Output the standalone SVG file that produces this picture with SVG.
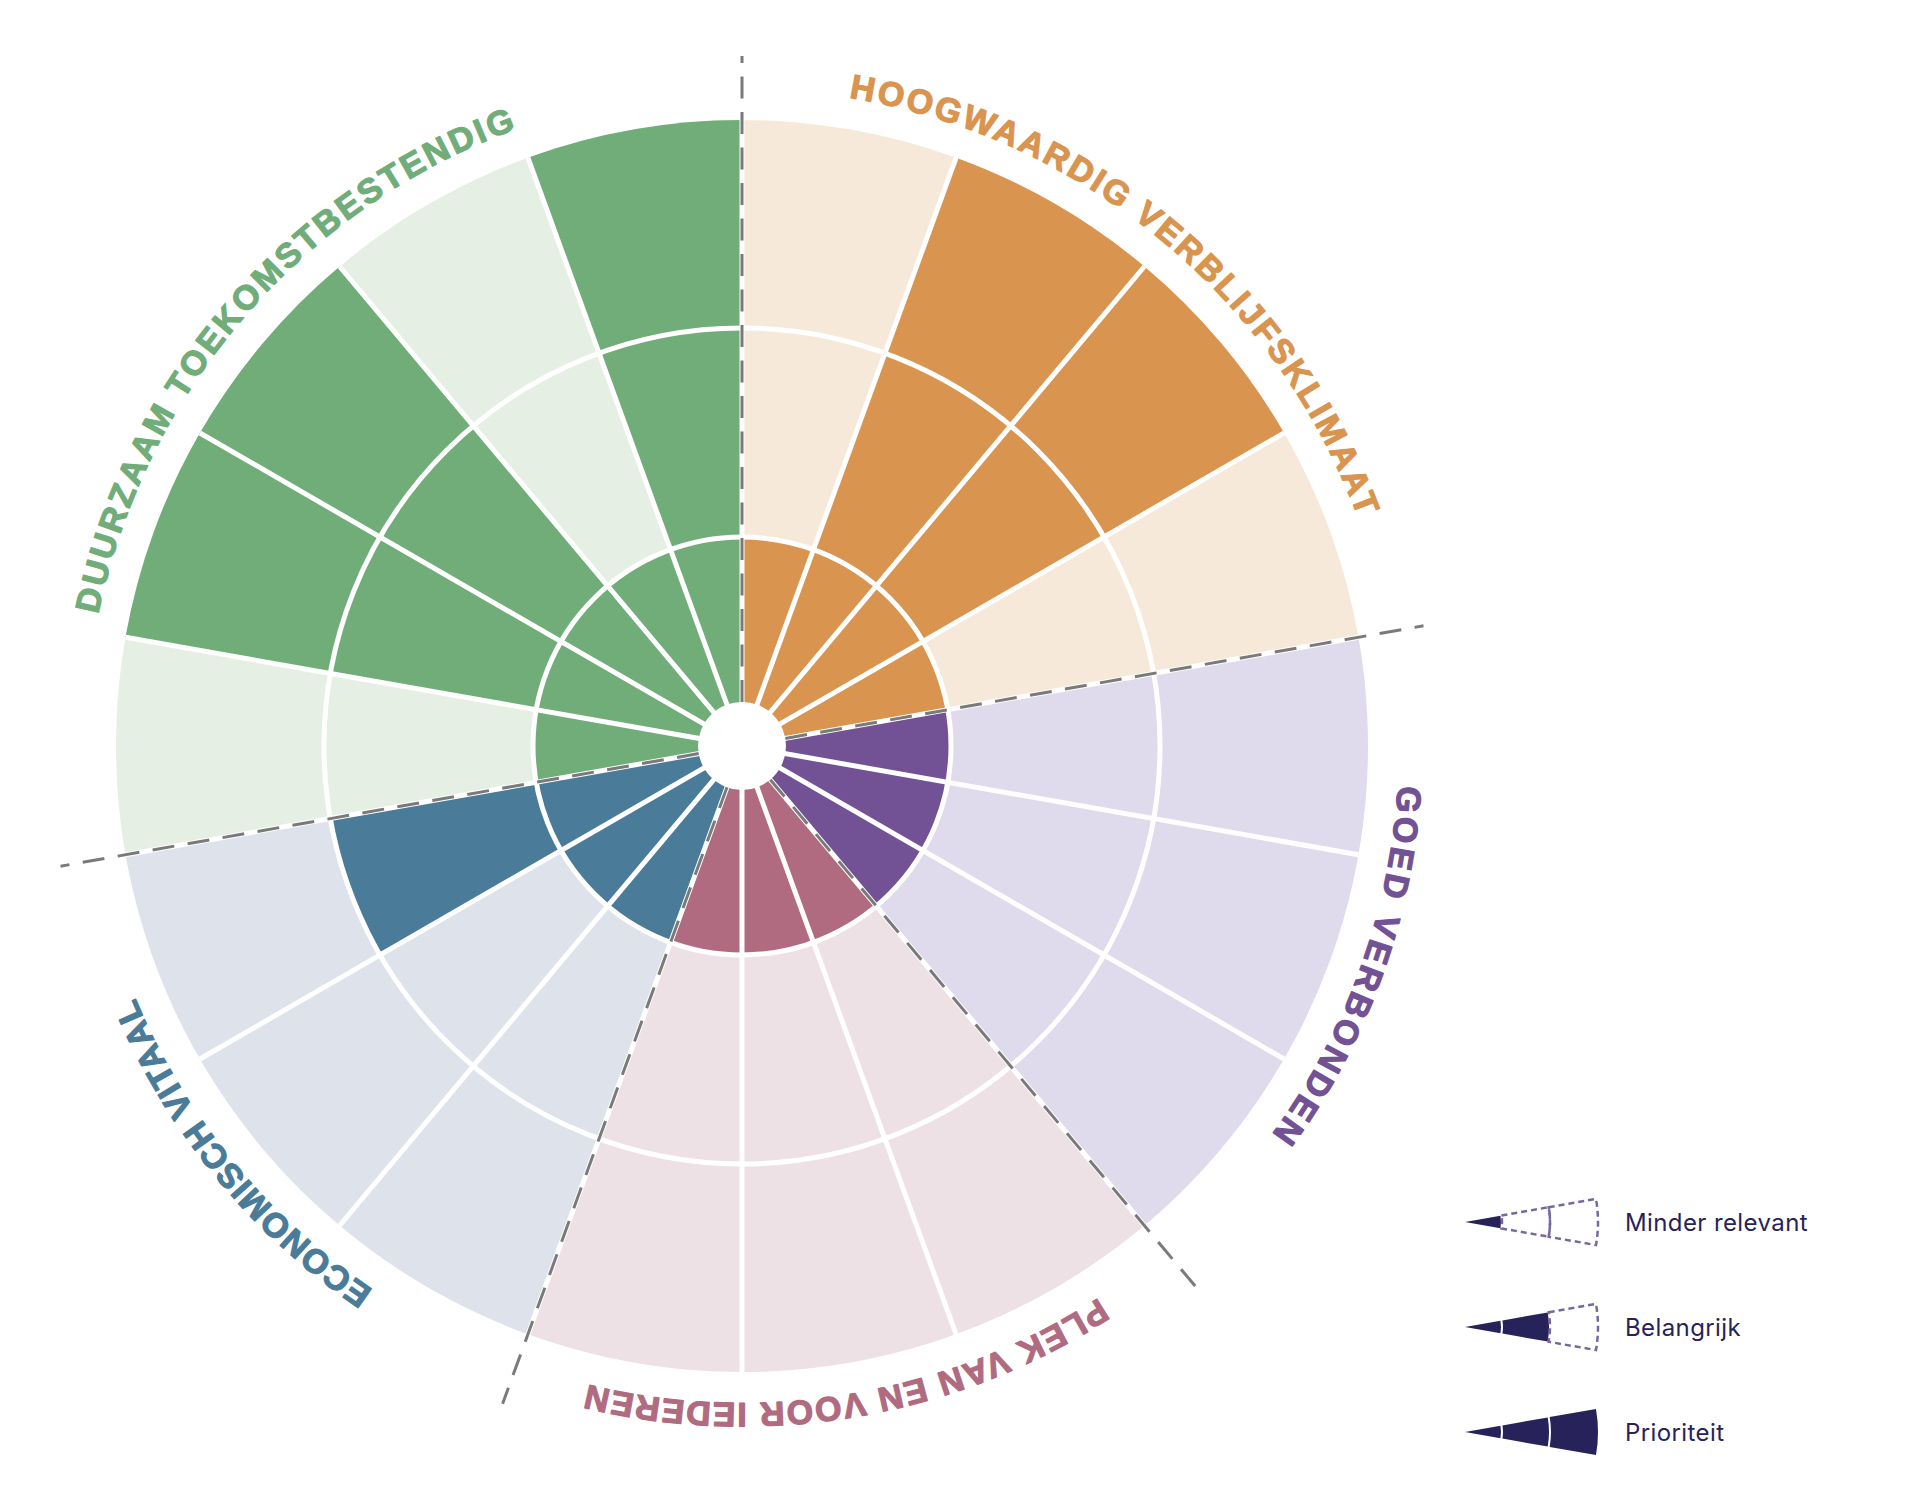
<svg xmlns="http://www.w3.org/2000/svg" xmlns:xlink="http://www.w3.org/1999/xlink" width="1920" height="1502" viewBox="0 0 1920 1502">
<style>
.grid{stroke:#ffffff;stroke-width:5;fill:none}
.div{stroke:#7a7a7a;stroke-width:3;stroke-dasharray:22 13.5;fill:none}
.lbl{font-family:"Liberation Sans",Arial,sans-serif;font-weight:700;font-size:34px;stroke-width:1.2px;stroke-linejoin:round}
.leg{font-family:Inter,"Liberation Sans",sans-serif;font-size:24px;letter-spacing:0.4px;fill:#27235a}
.navy{fill:#27235a}
.dash{fill:none;stroke:#76689a;stroke-width:2.5;stroke-dasharray:6 4}
</style>
<defs>
<path id="ring" d="M742,89 A657,657 0 1 1 742,1403 A657,657 0 1 1 742,89"/>
<path id="seg1" d="M0,0 L35.45,-6.25 A36,36 0 0 1 35.45,6.25 Z"/>
<path id="seg2" d="M37.42,-6.6 L82.72,-14.59 A84,84 0 0 1 82.72,14.59 L37.42,6.6 A38,38 0 0 0 37.42,-6.6 Z"/>
<path id="seg3" d="M84.69,-14.93 L130.98,-23.1 A133,133 0 0 1 130.98,23.1 L84.69,14.93 A86,86 0 0 0 84.69,-14.93 Z"/>
<path id="seg2d" d="M36.44,-6.42 L83.71,-14.76 A85,85 0 0 1 83.71,14.76 L36.44,6.42 A37,37 0 0 0 36.44,-6.42 Z"/>
<path id="seg3d" d="M83.71,-14.76 L130.98,-23.1 A133,133 0 0 1 130.98,23.1 L83.71,14.76 A85,85 0 0 0 83.71,-14.76 Z"/>
</defs>
<rect width="1920" height="1502" fill="#ffffff"/>

<g id="hoogwaardig-verblijfsklimaat">
<path d="M742,746 L742,120 A626,626 0 0 1 1358.5,637.3 Z" fill="#f7e9da"/>
<path d="M742,746 L956.1,157.7 A626,626 0 0 1 1284.1,433 Z" fill="#d9944f"/>
<path d="M742,746 L742,537 A209,209 0 0 1 947.8,709.7 Z" fill="#d9944f"/>
<text class="lbl" fill="#d9944f" stroke="#d9944f" letter-spacing="2.8"><textPath href="#ring" xlink:href="#ring" startOffset="454.1" text-anchor="middle">HOOGWAARDIG VERBLIJFSKLIMAAT</textPath></text>
</g>

<g id="goed-verbonden">
<path d="M742,746 L1358.5,637.3 A626,626 0 0 1 1144.4,1225.5 Z" fill="#e0dbec"/>
<path d="M742,746 L947.8,709.7 A209,209 0 0 1 876.3,906.1 Z" fill="#725195"/>
<text class="lbl" fill="#725195" stroke="#725195" letter-spacing="3.8"><textPath href="#ring" xlink:href="#ring" startOffset="1261.4" text-anchor="middle">GOED VERBONDEN</textPath></text>
</g>

<g id="plek-van-en-voor-iedereen">
<path d="M742,746 L1144.4,1225.5 A626,626 0 0 1 527.9,1334.3 Z" fill="#eee1e5"/>
<path d="M742,746 L876.3,906.1 A209,209 0 0 1 670.5,942.4 Z" fill="#b06b80"/>
<text class="lbl" fill="#b06b80" stroke="#b06b80" letter-spacing="1.6"><textPath href="#ring" xlink:href="#ring" startOffset="1954" text-anchor="middle">PLEK VAN EN VOOR IEDEREN</textPath></text>
</g>

<g id="economisch-vitaal">
<path d="M742,746 L527.9,1334.3 A626,626 0 0 1 125.5,854.7 Z" fill="#dee2ea"/>
<path d="M742,746 L380,955 A418,418 0 0 1 330.3,818.6 Z" fill="#4a7b99"/>
<path d="M742,746 L670.5,942.4 A209,209 0 0 1 536.2,782.3 Z" fill="#4a7b99"/>
<text class="lbl" fill="#4a7b99" stroke="#4a7b99" letter-spacing="1.1"><textPath href="#ring" xlink:href="#ring" startOffset="2646.6" text-anchor="middle">ECONOMISCH VITAAL</textPath></text>
</g>

<g id="duurzaam-toekomstbestendig">
<path d="M742,746 L125.5,854.7 A626,626 0 0 1 742,120 Z" fill="#e6efe4"/>
<path d="M742,746 L527.9,157.7 A626,626 0 0 1 742,120 Z" fill="#70ad79"/>
<path d="M742,746 L125.5,637.3 A626,626 0 0 1 339.6,266.5 Z" fill="#70ad79"/>
<path d="M742,746 L536.2,782.3 A209,209 0 0 1 742,537 Z" fill="#70ad79"/>
<text class="lbl" fill="#70ad79" stroke="#70ad79" letter-spacing="2.9"><textPath href="#ring" xlink:href="#ring" startOffset="3564" text-anchor="middle">DUURZAAM TOEKOMSTBESTENDIG</textPath></text>
</g>

<g id="grid">
<path class="grid" d="M742,120 L742,1372 M956.1,157.7 L527.9,1334.3 M1144.4,266.5 L339.6,1225.5 M1284.1,433 L199.9,1059 M1358.5,637.3 L125.5,854.7 M1358.5,854.7 L125.5,637.3 M1284.1,1059 L199.9,433 M1144.4,1225.5 L339.6,266.5 M956.1,1334.3 L527.9,157.7"/>
<circle class="grid" cx="742" cy="746" r="209"/>
<circle class="grid" cx="742" cy="746" r="418"/>
<circle cx="742" cy="746" r="44" fill="#ffffff"/>
</g>

<g id="connectors">
<path class="div" d="M742,702 L742,56"/>
<path class="div" d="M785.3,738.4 L1423.5,625.8"/>
<path class="div" d="M698.7,753.6 L60.5,866.2"/>
<path class="div" d="M770.3,779.7 L1195.2,1286.1"/>
<path class="div" d="M727,787.3 L502.6,1403.8"/>
</g>

<g id="legend">
<g id="legend-minder-relevant" transform="translate(1465,1222)">
<use href="#seg1" xlink:href="#seg1" class="navy"/>
<use href="#seg2d" xlink:href="#seg2d" class="dash"/>
<use href="#seg3d" xlink:href="#seg3d" class="dash"/>
<text class="leg" x="160" y="9">Minder relevant</text>
</g>
<g id="legend-belangrijk" transform="translate(1465,1327)">
<use href="#seg1" xlink:href="#seg1" class="navy"/>
<use href="#seg2" xlink:href="#seg2" class="navy"/>
<use href="#seg3d" xlink:href="#seg3d" class="dash"/>
<text class="leg" x="160" y="9">Belangrijk</text>
</g>
<g id="legend-prioriteit" transform="translate(1465,1432)">
<use href="#seg1" xlink:href="#seg1" class="navy"/>
<use href="#seg2" xlink:href="#seg2" class="navy"/>
<use href="#seg3" xlink:href="#seg3" class="navy"/>
<text class="leg" x="160" y="9">Prioriteit</text>
</g>
</g>
</svg>
